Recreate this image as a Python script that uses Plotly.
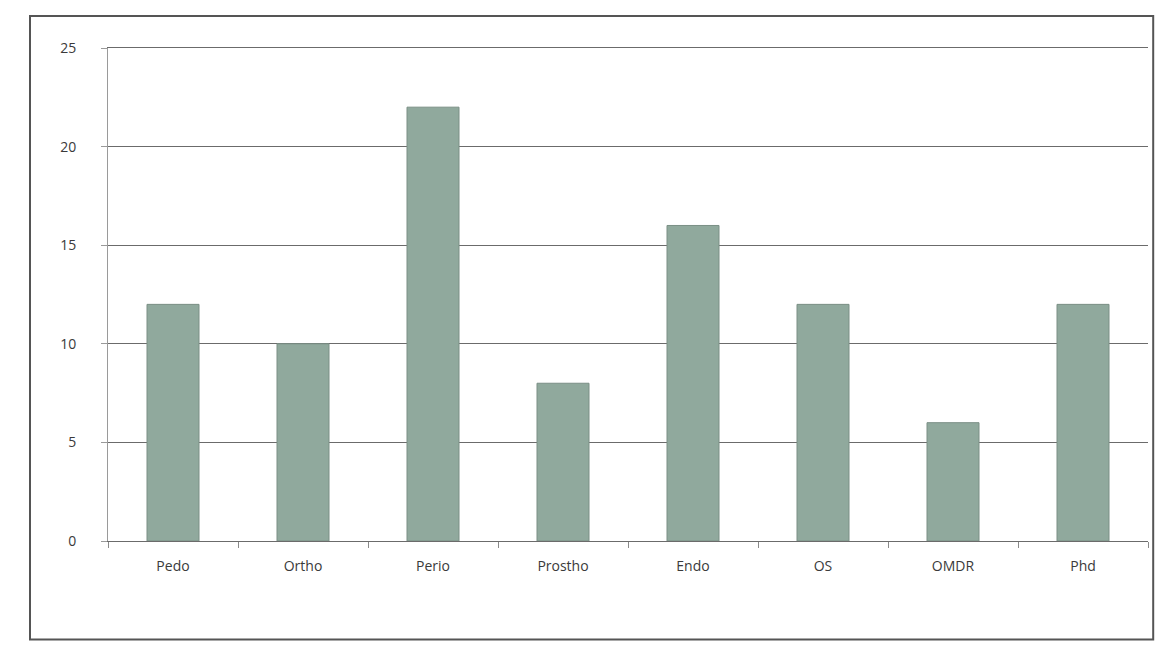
import plotly.graph_objects as go

# departments and the values
departments = ["Pedo", "Ortho", "Perio", "Prostho", "Endo", "OS", "OMDR", "Phd"]
counts = [12, 10, 22, 8, 16, 12, 6, 12]
y_ticks = [0, 5, 10, 15, 20, 25]

BAR = "#90a99d"
GRID = "#6b6b6b"

fig = go.Figure()
fig.add_trace(go.Bar(
    x=departments, y=counts,
    marker=dict(color=BAR, line=dict(color="#7a8f85", width=1)),
    width=0.4,
    showlegend=False,
))

fig.update_layout(
    width=1173, height=658,
    paper_bgcolor="#ffffff", plot_bgcolor="#ffffff",
    font=dict(family="Open Sans, Arial, sans-serif", size=14, color="#3a3a3a"),
    margin=dict(l=100, r=33, t=40, b=125),
    xaxis=dict(showgrid=False, showline=True, linecolor=GRID, linewidth=1, mirror=True,
               ticks="outside", tickson="boundaries", ticklen=6, tickcolor="#8a8a8a",
               tickfont=dict(size=14), ticklabelstandoff=12),
    yaxis=dict(range=[0, 25], tickvals=y_ticks, showgrid=True, gridcolor=GRID,
               gridwidth=1, showline=True, linecolor="#9a9a9a", ticks="outside",
               ticklen=6, tickcolor="#9a9a9a", tickfont=dict(size=14), zeroline=False,
               ticklabelstandoff=22),
)

# chart frame, like the Excel chart border
fig.add_shape(type="rect", xref="paper", yref="paper",
              x0=-0.075, x1=1.005, y0=-0.2, y1=1.065,
              line=dict(color="#555555", width=2))

fig.write_html("out.html")
